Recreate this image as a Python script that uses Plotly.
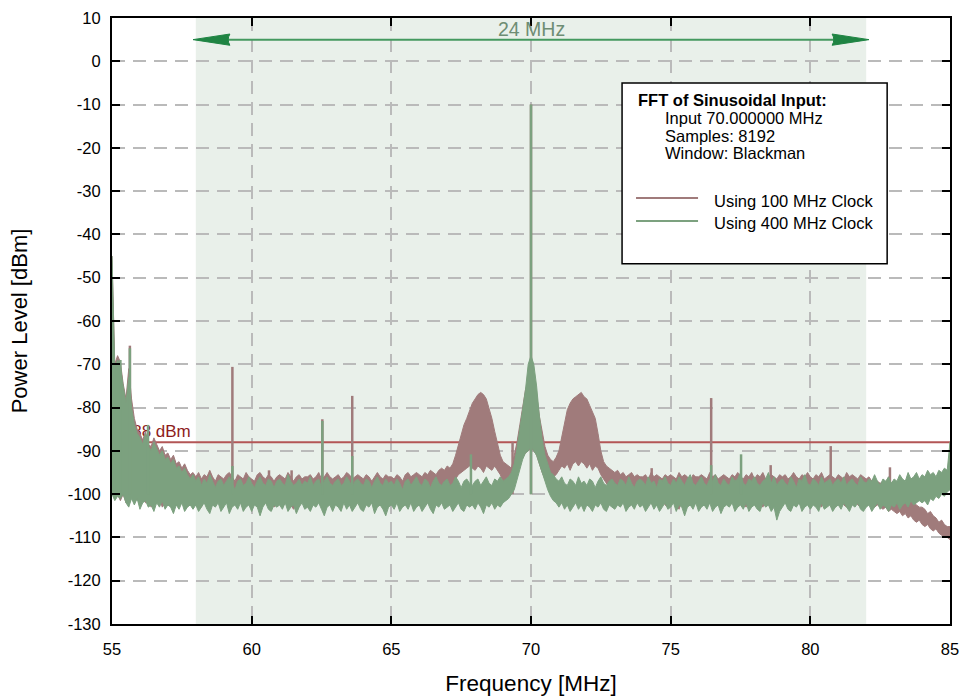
import numpy as np
import plotly.graph_objects as go

# ---------------------------------------------------------------------------
# Decimated FFT of a 70 MHz sine: min/max envelope per 0.1 MHz bin (dBm)
# one row per MHz (x.0 ... x.9), last value is 85.0 MHz
# ---------------------------------------------------------------------------
FREQ = np.round(np.arange(55.0, 85.0001, 0.1), 2)

# 100 MHz clock – upper envelope
RED_HI = [
    -45, -70, -68, -69.5, -74.5, -78, -71, -78, -82.5, -85,                 # 55
    -86, -87.5, -85.5, -88.5, -89, -87, -88.5, -90, -89, -91,               # 56
    -90.5, -92, -91, -93, -92.5, -94, -93, -94.5, -95.5, -95,               # 57
    -96, -95, -96.5, -95.5, -96, -94.5, -96, -97, -95.5, -96,               # 58
    -96.5, -95.5, -95, -96, -97, -95.5, -96, -96.5, -95, -96,               # 59
    -96.5, -97, -95.5, -95, -96, -96.5, -95.5, -96, -97, -96,               # 60
    -95.5, -96, -96.5, -95, -96, -97, -96, -95.5, -96.5, -96,               # 61
    -96, -95.5, -96.5, -96, -95, -96.5, -96, -95, -96, -96.5,               # 62
    -96, -95.5, -96.5, -96, -95, -95.5, -96.5, -96, -95.5, -96,             # 63
    -96.5, -95.5, -96, -97, -96, -95, -96, -96.5, -95.5, -96,               # 64
    -96, -96.5, -95.5, -96, -97, -95.5, -95, -96, -95.5, -95,               # 65
    -95.5, -96, -95, -95.5, -94.5, -95, -95.5, -94.5, -94, -94.5,           # 66
    -93.5, -94, -93, -91, -88.5, -86, -84, -82.5, -80.5, -79,               # 67
    -78, -77, -76.5, -77, -78, -80, -82.5, -85.5, -88.5, -91,               # 68
    -92.5, -93, -93.5, -94, -91, -88, -84, -80, -76, -74,                   # 69
    -73, -74.5, -77, -82, -86, -89, -91, -92, -92.5, -91.5,                 # 70
    -90, -87, -84, -80.5, -79, -78, -77.5, -77, -76.5, -77.5,               # 71
    -78, -79.5, -81, -82.5, -86, -90, -92.5, -93.5, -94, -94.5,             # 72
    -95, -94.5, -95.5, -95, -96, -95.5, -95, -96, -95.5, -96,               # 73
    -96, -95.5, -96.5, -95, -96, -95.5, -96, -96.5, -95.5, -96,             # 74
    -95.5, -96, -96.5, -95, -96, -95.5, -96, -97, -95.5, -96,               # 75
    -96, -95.5, -96, -96.5, -95, -96, -95.5, -96.5, -96, -95.5,             # 76
    -96, -96.5, -95.5, -96, -95, -96, -96.5, -95.5, -96, -95,               # 77
    -96.5, -95.5, -96, -95, -96.5, -96, -95.5, -96, -96.5, -95.5,           # 78
    -96, -95.5, -96.5, -96, -95, -96, -96.5, -95.5, -96, -95,               # 79
    -96, -96.5, -95.5, -96, -95, -96.5, -96, -95.5, -96, -96.5,             # 80
    -95.5, -96, -96.5, -95, -96, -95.5, -96, -96.5, -95.5, -96,             # 81
    -96.5, -96, -97, -96.5, -97, -97.5, -97, -98, -96, -97.5,               # 82
    -98, -98.5, -99, -99.5, -100, -101, -101.5, -102, -102.5, -103,         # 83
    -103, -103.5, -104.5, -104, -105, -105.5, -106.5, -106, -107, -107.5,   # 84
    -107.5,                                                                 # 85
]
# 100 MHz clock – lower envelope
RED_LO = [
    -99, -100.5, -100, -101.5, -100, -102, -101, -100.5, -102, -101,
    -102.5, -101, -102, -101.5, -103, -101.5, -102, -101, -103, -102,
    -101.5, -102.5, -103.5, -101.5, -102, -101, -103, -102, -101.5, -102.5,
    -101, -102.5, -103, -101.5, -102, -103.5, -101.5, -102, -101, -103,
    -102, -101, -103, -102.5, -101.5, -102, -101, -103.5, -102, -101.5,
    -103, -101.5, -102, -103.5, -101, -102, -102.5, -101.5, -103, -102,
    -101.5, -103, -102, -101, -102.5, -103.5, -101.5, -102, -101, -102.5,
    -102, -103, -101.5, -102, -101, -102.5, -104, -102, -101.5, -103,
    -101.5, -102, -103, -101, -102.5, -101.5, -103, -102, -101, -102.5,
    -103, -101.5, -102, -101, -103.5, -102, -101.5, -102.5, -103.5, -102,
    -101.5, -102.5, -101, -103, -102, -101.5, -102.5, -101, -102, -101.5,
    -101, -102, -101, -100.5, -101.5, -100.5, -100, -101, -100, -99.5,
    -99.5, -99, -98, -96.5, -95.5, -95, -94.5, -94, -93.5, -94,
    -94.5, -93.5, -94, -95, -93.5, -94, -94.5, -93.5, -94.5, -95.5,
    -97, -98, -98.5, -97.5, -96, -95, -93, -91.5, -90.5, -90,
    -89.5, -90, -91, -93, -95, -96.5, -97.5, -97, -96, -95.5,
    -94.5, -93.5, -94, -93, -94.5, -93, -92.5, -93.5, -92.5, -93,
    -94, -93, -94.5, -93.5, -94, -95.5, -96.5, -97.5, -98.5, -99.5,
    -100, -100.5, -101, -100.5, -101.5, -101, -102, -101, -101.5, -102,
    -101.5, -102.5, -101, -102, -103, -101.5, -102, -101, -102.5, -103,
    -102, -101, -102.5, -103.5, -101.5, -102, -101, -102.5, -102, -101.5,
    -102.5, -101.5, -102, -103, -101, -102, -102.5, -101.5, -103, -102,
    -101, -102.5, -102, -101, -103, -101.5, -102, -103, -101.5, -102,
    -102.5, -101, -102, -103, -101.5, -102, -103.5, -102, -101, -102.5,
    -102, -101.5, -103, -102, -101, -102.5, -102, -103, -101.5, -102,
    -101.5, -102.5, -101, -102, -103, -101.5, -102, -102.5, -101, -103,
    -102, -101, -102.5, -103, -101.5, -102, -101, -102.5, -103, -102,
    -101.5, -102, -102.5, -103, -102.5, -103, -103.5, -103, -104, -103.5,
    -104, -104.5, -104, -105, -104.5, -105.5, -105, -106, -106.5, -106,
    -107, -107.5, -107, -108, -108.5, -108, -109, -109.5, -110, -110,
    -110.5,
]

# 400 MHz clock – upper envelope
GREEN_HI = [
    -45, -71, -69, -70.5, -75, -79, -73, -80, -84, -86,                     # 55
    -87, -88.5, -86, -89, -90, -88, -89.5, -91, -90, -92,                   # 56
    -91.5, -93, -92, -94, -93.5, -95, -94, -95.5, -96.5, -95.5,             # 57
    -97, -96, -98, -96.5, -97.5, -95.5, -97, -98.5, -97, -96.5,             # 58
    -98, -97, -96, -97.5, -99, -97, -96.5, -98, -97.5, -96,                 # 59
    -97.5, -98.5, -97, -96, -97.5, -98, -96.5, -97, -98.5, -97,             # 60
    -96.5, -97.5, -98, -95.5, -97, -98, -97.5, -96.5, -98, -97,             # 61
    -97.5, -96, -98, -97, -96.5, -98.5, -97, -96, -97.5, -98,               # 62
    -97, -96.5, -98, -97.5, -96, -97, -98.5, -97, -96.5, -97.5,             # 63
    -98, -96.5, -97, -98.5, -97, -96, -97.5, -98, -96.5, -97.5,             # 64
    -97, -98, -96.5, -97.5, -99, -97, -96.5, -98, -97, -96,                 # 65
    -97.5, -98, -96.5, -97, -98.5, -97, -96, -97.5, -98, -97,               # 66
    -96.5, -98, -97.5, -96, -97, -98.5, -97, -96.5, -97.5, -98,             # 67
    -97, -96.5, -98, -97, -96, -97.5, -98, -96.5, -97, -96,                 # 68
    -97, -96.5, -96, -95, -93, -89.5, -85, -80, -76, -70,                   # 69
    -68, -70, -75, -82, -87.5, -91, -93, -95, -95.5, -96.5,                 # 70
    -97, -96, -97.5, -98, -96.5, -97, -98, -96, -97.5, -97,                 # 71
    -98, -96.5, -97, -98.5, -97, -96, -97.5, -98, -97, -96.5,               # 72
    -97.5, -98, -96.5, -97, -98, -96, -97.5, -98.5, -97, -96.5,             # 73
    -97, -98, -96, -97.5, -97, -98.5, -96.5, -97, -96, -97.5,               # 74
    -98, -96.5, -97.5, -96, -97, -98, -96.5, -95.5, -97.5, -98,             # 75
    -97, -96, -97.5, -98, -96.5, -97, -95.5, -97.5, -98, -96.5,             # 76
    -97.5, -98, -96, -97, -96.5, -95, -97.5, -98, -96.5, -97,               # 77
    -96, -97.5, -98, -97, -96.5, -95, -97.5, -96, -98, -97,                 # 78
    -96.5, -97.5, -98, -96, -97, -98.5, -96.5, -97, -95.5, -97.5,           # 79
    -98, -96.5, -97, -98, -96, -97.5, -97, -96.5, -98, -97,                 # 80
    -96.5, -97.5, -96, -98, -97, -96.5, -97.5, -98, -96, -97,               # 81
    -97.5, -96.5, -97, -95.5, -97, -98, -96.5, -97, -96, -97.5,             # 82
    -96.5, -97, -95.5, -96.5, -97, -95, -96.5, -96, -95, -96.5,             # 83
    -95.5, -96, -94.5, -95.5, -95, -96, -94.5, -95, -94, -94.5,             # 84
    -88,                                                                    # 85
]
# 400 MHz clock – lower envelope
GREEN_LO = [
    -100, -101.5, -100.5, -101, -100, -102, -103, -101, -102.5, -101,
    -103.5, -102, -101.5, -103, -102.5, -104, -102, -103, -101.5, -103.5,
    -102.5, -103, -104.5, -102.5, -103.5, -102, -104, -103, -102.5, -103.5,
    -102.5, -104, -103, -102, -103.5, -104.5, -102.5, -103, -102, -104,
    -103, -102, -104.5, -103, -102.5, -103.5, -102, -104, -103, -102.5,
    -104, -102.5, -103, -105, -103, -102, -103.5, -104, -102.5, -103,
    -102.5, -103.5, -102, -104, -103, -102.5, -104.5, -103, -102, -103.5,
    -103, -104, -102.5, -103, -102, -103.5, -105, -103, -102.5, -104,
    -102.5, -103, -104, -102, -103.5, -102.5, -104, -103, -102, -103.5,
    -104, -102.5, -103, -102, -104.5, -103, -102.5, -103.5, -105, -103,
    -102.5, -103.5, -102, -104, -103, -102.5, -103.5, -102, -104, -103,
    -102.5, -104, -103, -102, -103.5, -104.5, -102.5, -103, -102, -103.5,
    -103, -102.5, -104, -103, -102, -103.5, -104, -102.5, -103, -102.5,
    -103.5, -102, -103, -104.5, -102.5, -103, -102, -103.5, -102.5, -103,
    -102, -101.5, -101, -100, -99, -97, -94.5, -92, -90.5, -90,
    -89, -90, -91, -93, -95, -97, -99, -100.5, -101.5, -102,
    -103, -102, -103.5, -102.5, -104, -103, -102, -103.5, -102.5, -104,
    -102.5, -103, -104, -102.5, -103, -102, -103.5, -104, -102.5, -103,
    -103.5, -102.5, -103, -102, -104, -103, -102.5, -103.5, -102, -103,
    -102.5, -104, -103, -102, -103.5, -102.5, -104, -103, -102, -103.5,
    -103, -102, -104, -102.5, -103, -105, -103, -102.5, -103.5, -102,
    -104, -103, -102.5, -103.5, -102, -104, -103, -102.5, -104.5, -103,
    -102.5, -103, -102, -104, -103, -102.5, -103.5, -102, -104, -103,
    -102.5, -103.5, -104, -102, -103, -102.5, -104, -103, -106, -104,
    -103, -102, -103.5, -104, -102.5, -103, -102, -104, -103, -102.5,
    -103.5, -102.5, -103, -104, -102, -103.5, -103, -102.5, -104, -103,
    -102.5, -103.5, -102, -103, -104, -102.5, -103, -102, -103.5, -104,
    -103, -102.5, -104, -103, -102, -103.5, -102.5, -103, -104, -102.5,
    -103, -102, -103.5, -102.5, -102, -103, -101.5, -102.5, -102, -101.5,
    -102, -101.5, -102.5, -101, -101.5, -100.5, -101, -100, -100.5, -99.5,
    -99,
]

# Discrete spurs (MHz, dBm) standing out of the noise floor
RED_SPUR_F = [55.64, 59.31, 60.62, 61.43, 62.53, 63.60, 69.34, 70.00,
              74.32, 76.45, 78.58, 80.73, 82.85]
RED_SPUR_DB = [-65.7, -70.6, -94.5, -94.5, -82.7, -77.3, -88.0, -10.0,
               -94.0, -77.8, -93.3, -88.9, -93.8]
GREEN_SPUR_F = [55.08, 55.30, 55.64, 56.29, 59.31, 62.53, 63.60, 67.85,
                70.00, 76.45, 77.52]
GREEN_SPUR_DB = [-70.0, -69.0, -66.3, -84.0, -93.5, -83.1, -91.2, -90.8,
                 -10.0, -93.3, -90.8]
SPUR_FLOOR = -100.0

THRESHOLD_DBM = -88
BAND = (58.0, 82.0)          # 24 MHz span
BAND_LABEL = "24 MHz"

X_TICKS = [55, 60, 65, 70, 75, 80, 85]
Y_TICKS = [10, 0, -10, -20, -30, -40, -50, -60, -70, -80, -90, -100, -110, -120, -130]

LEGEND_TITLE = "FFT of Sinusoidal Input:"
LEGEND_INFO = ["Input 70.000000 MHz", "Samples: 8192", "Window: Blackman"]
SERIES_NAMES = ["Using 100 MHz Clock", "Using 400 MHz Clock"]

for arr in (RED_HI, RED_LO, GREEN_HI, GREEN_LO):
    assert len(arr) == len(FREQ), len(arr)

RED = "#a07b7b"
GREEN = "#7ca17f"
FONT = "Liberation Sans, Arial, sans-serif"


def band_polygon(freq, hi, lo):
    xs = list(freq) + list(freq[::-1])
    ys = list(hi) + list(lo[::-1])
    return xs, ys


def spur_segments(freqs, levels, floor):
    xs, ys = [], []
    for f, v in zip(freqs, levels):
        xs += [f, f, None]
        ys += [floor, v, None]
    return xs, ys


fig = go.Figure()

# threshold line and its label sit underneath the spectra
fig.add_trace(go.Scatter(x=[X_TICKS[0], X_TICKS[-1]], y=[THRESHOLD_DBM] * 2,
                         mode="lines", line=dict(color="#b35656", width=2),
                         showlegend=False, hoverinfo="skip"))
fig.add_trace(go.Scatter(x=[55.52], y=[THRESHOLD_DBM + 2.1], mode="text",
                         text=[f"{THRESHOLD_DBM} dBm"], textposition="middle right",
                         textfont=dict(family=FONT, size=17, color="#8e1c1c"),
                         showlegend=False, hoverinfo="skip"))

for hi, lo, sf, sd, col, name in (
        (RED_HI, RED_LO, RED_SPUR_F, RED_SPUR_DB, RED, SERIES_NAMES[0]),
        (GREEN_HI, GREEN_LO, GREEN_SPUR_F, GREEN_SPUR_DB, GREEN, SERIES_NAMES[1])):
    xs, ys = band_polygon(FREQ, np.array(hi), np.array(lo))
    fig.add_trace(go.Scatter(x=xs, y=ys, mode="lines", fill="toself",
                             fillcolor=col, line=dict(color=col, width=1),
                             name=name, showlegend=False, hoverinfo="skip"))
    sx, sy = spur_segments(sf, sd, SPUR_FLOOR)
    fig.add_trace(go.Scatter(x=sx, y=sy, mode="lines",
                             line=dict(color=col, width=2.5),
                             showlegend=False, hoverinfo="skip"))

shapes = [
    dict(type="rect", xref="x", yref="y", x0=BAND[0], x1=BAND[1], y0=-130, y1=10,
         fillcolor="#e9f0ea", line=dict(width=0), layer="below"),
]

# double-headed span arrow
ARROW_Y = 5.0
HEAD_LEN = 1.32   # MHz
HEAD_HALF = 1.3   # dB
tip_l, tip_r = BAND[0] - 0.1, BAND[1] + 0.1
shapes.append(dict(type="line", xref="x", yref="y", x0=tip_l + 1.0, x1=tip_r - 1.0,
                   y0=ARROW_Y, y1=ARROW_Y, line=dict(color="#44995f", width=2),
                   layer="above"))
for tip, d in ((tip_l, 1), (tip_r, -1)):
    back = tip + d * HEAD_LEN
    path = (f"M {tip},{ARROW_Y} L {back},{ARROW_Y + HEAD_HALF} "
            f"Q {back - d * 0.12},{ARROW_Y} {back},{ARROW_Y - HEAD_HALF} Z")
    shapes.append(dict(type="path", xref="x", yref="y", path=path,
                       fillcolor="#1f8443", line=dict(color="#1f8443", width=1),
                       layer="above"))

# legend box
LX0, LX1, LY0, LY1 = 73.26, 82.75, -46.8, -5.0
shapes.append(dict(type="rect", xref="x", yref="y", x0=LX0, x1=LX1, y0=LY0, y1=LY1,
                   fillcolor="white", line=dict(color="black", width=1.5),
                   layer="above"))
for yv, col in ((-31.6, RED), (-36.9, GREEN)):
    shapes.append(dict(type="line", xref="x", yref="y", x0=73.76, x1=75.98,
                       y0=yv, y1=yv, line=dict(color=col, width=2), layer="above"))

annotations = [
    dict(x=(BAND[0] + BAND[1]) / 2, y=7.4, xref="x", yref="y", text=BAND_LABEL,
         showarrow=False, font=dict(family=FONT, size=19.5, color="#6e8d74"),
         xanchor="center", yanchor="middle"),
    dict(x=73.76, y=-8.9, xref="x", yref="y", text=f"<b>{LEGEND_TITLE}</b>",
         showarrow=False, font=dict(family=FONT, size=16.5, color="black"),
         xanchor="left", yanchor="middle"),
]
for txt, yv in zip(LEGEND_INFO, (-13.2, -17.3, -21.3)):
    annotations.append(dict(x=74.74, y=yv, xref="x", yref="y", text=txt,
                            showarrow=False, font=dict(family=FONT, size=16.5, color="black"),
                            xanchor="left", yanchor="middle"))
for txt, yv in zip(SERIES_NAMES, (-32.3, -37.4)):
    annotations.append(dict(x=76.48, y=yv, xref="x", yref="y", text=txt,
                            showarrow=False, font=dict(family=FONT, size=16.5, color="black"),
                            xanchor="left", yanchor="middle"))

axis_common = dict(showline=True, linecolor="black", linewidth=2, mirror="ticks",
                   ticks="inside", ticklen=8, tickwidth=2, tickcolor="black",
                   showgrid=True, gridcolor="#bababa", gridwidth=1.5,
                   griddash="13px,8px", zeroline=False, automargin=False,
                   tickfont=dict(family=FONT, size=16.5, color="black"))

fig.update_layout(
    width=964, height=696,
    margin=dict(l=112, r=14, t=18, b=72),
    plot_bgcolor="white", paper_bgcolor="white",
    font=dict(family=FONT, color="black"),
    showlegend=False, hovermode=False,
    shapes=shapes, annotations=annotations,
    xaxis=dict(range=[55, 85], tickvals=X_TICKS, ticktext=[str(v) for v in X_TICKS],
               ticklabelstandoff=9,
               title=dict(text="Frequency [MHz]", font=dict(family=FONT, size=22.5),
                          standoff=20),
               **axis_common),
    yaxis=dict(range=[-130, 10], tickvals=Y_TICKS, ticktext=[str(v) for v in Y_TICKS],
               ticklabelstandoff=6,
               title=dict(text="Power Level [dBm]", font=dict(family=FONT, size=22),
                          standoff=34),
               **axis_common),
)

fig.write_html("out.html")
